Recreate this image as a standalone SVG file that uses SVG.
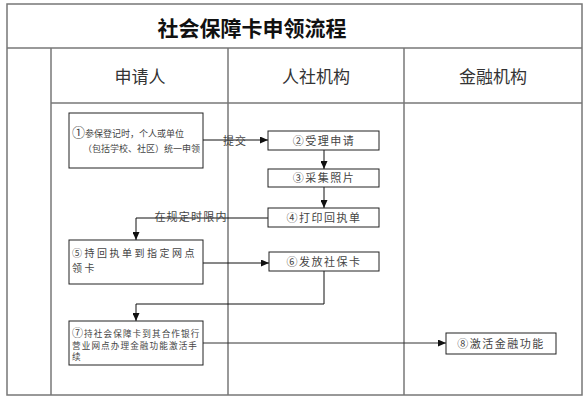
<svg xmlns="http://www.w3.org/2000/svg" width="587" height="400" viewBox="0 0 587 400">
<defs>
<marker id="arr" markerWidth="8" markerHeight="7" refX="8" refY="3.5" orient="auto" markerUnits="userSpaceOnUse">
<path d="M0,0 L8,3.5 L0,7 Z" fill="#111"/>
</marker>
<style>
.grid{fill:none;stroke:#777;stroke-width:1.5}
.box{fill:#fff;stroke:#222;stroke-width:1}
.t{font-family:"Noto Sans CJK SC","Noto Sans",sans-serif;fill:#444}
.bt{font-size:11px;letter-spacing:1.5px}
.b5{font-size:10px;letter-spacing:2.5px}
.sm{font-size:9px}
.xs{font-size:8.6px;letter-spacing:1.1px}
.hd{font-size:17px;fill:#333;text-anchor:middle}
.c{text-anchor:middle}
.ln{fill:none;stroke:#111;stroke-width:1}
</style>
</defs>
<rect width="587" height="400" fill="#fff"/>
<g id="frame">
<rect class="grid" x="7" y="4" width="575" height="391"/>
<line class="grid" x1="7" y1="48" x2="582" y2="48"/>
<line class="grid" x1="51" y1="103" x2="582" y2="103"/>
<line class="grid" x1="51" y1="48" x2="51" y2="395"/>
<line class="grid" x1="228" y1="48" x2="228" y2="395"/>
<line class="grid" x1="404" y1="48" x2="404" y2="395"/>
<text class="t" x="252" y="36" font-size="21" font-weight="bold" text-anchor="middle" style="fill:#111">社会保障卡申领流程</text>
<text class="t hd" x="140" y="83">申请人</text>
<text class="t hd" x="316" y="83">人社机构</text>
<text class="t hd" x="493" y="83">金融机构</text>
</g>
<g id="connectors">
<line class="ln" x1="203" y1="140" x2="268" y2="140" marker-end="url(#arr)"/>
<line class="ln" x1="324" y1="150" x2="324" y2="169" marker-end="url(#arr)"/>
<line class="ln" x1="324" y1="187" x2="324" y2="208" marker-end="url(#arr)"/>
<polyline class="ln" points="268,218 136,218 136,240" marker-end="url(#arr)"/>
<line class="ln" x1="203" y1="263" x2="269" y2="263" marker-end="url(#arr)"/>
<polyline class="ln" points="324,271 324,304 136,304 136,321" marker-end="url(#arr)"/>
<line class="ln" x1="203" y1="343" x2="446" y2="343" marker-end="url(#arr)" style="stroke:#333"/>
<text class="t" x="235" y="145" font-size="11" text-anchor="middle" letter-spacing="1">提交</text>
<text class="t" x="191" y="221" font-size="11" text-anchor="middle" letter-spacing="1.2">在规定时限内</text>
</g>
<g id="n1">
<rect class="box" x="69" y="113" width="134" height="55"/>
<text class="t sm" x="72" y="137"><tspan font-size="13">①</tspan>参保登记时，个人或单位</text>
<text class="t sm" x="83" y="152">（包括学校、社区）统一申领</text>
</g>
<g id="n2">
<rect class="box" x="268" y="131" width="111" height="19"/>
<text class="t bt c" x="324" y="145">②受理申请</text>
</g>
<g id="n3">
<rect class="box" x="268" y="169" width="111" height="18"/>
<text class="t bt c" x="324" y="182">③采集照片</text>
</g>
<g id="n4">
<rect class="box" x="268" y="208" width="111" height="19"/>
<text class="t bt c" x="324" y="222">④打印回执单</text>
</g>
<g id="n5">
<rect class="box" x="69" y="240" width="134" height="44"/>
<text class="t b5" x="72" y="257">⑤持回执单到指定网点</text>
<text class="t b5" x="72" y="272">领卡</text>
</g>
<g id="n6">
<rect class="box" x="269" y="252" width="110" height="19"/>
<text class="t bt c" x="324" y="266">⑥发放社保卡</text>
</g>
<g id="n7">
<rect class="box" x="69" y="321" width="134" height="44"/>
<text class="t xs" x="72" y="337"><tspan font-size="11">⑦</tspan>持社会保障卡到其合作银行</text>
<text class="t xs" x="72" y="349">营业网点办理金融功能激活手</text>
<text class="t xs" x="72" y="360">续</text>
</g>
<g id="n8">
<rect class="box" x="446" y="333" width="110" height="21"/>
<text class="t bt c" x="501" y="348">⑧激活金融功能</text>
</g>
</svg>
